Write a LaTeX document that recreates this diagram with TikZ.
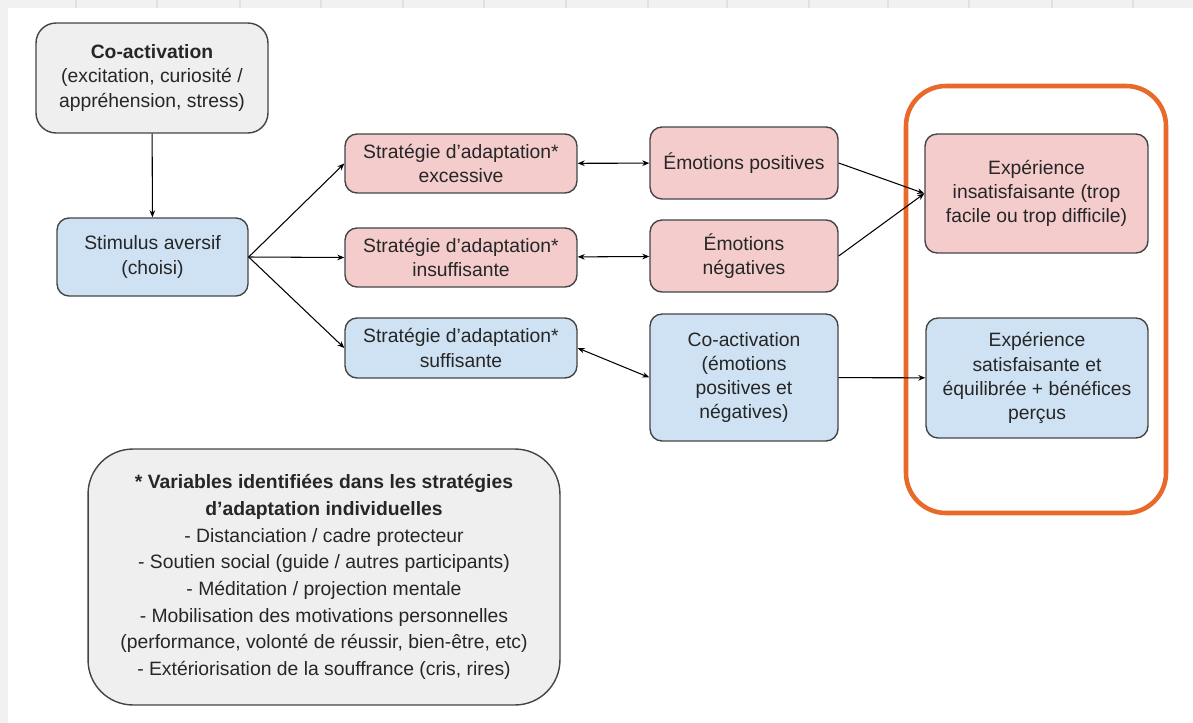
\documentclass[tikz,border=0pt]{standalone}
\usepackage{fontspec}
\setmainfont{Liberation Sans}
\usepackage{xcolor}
\usepackage{tikz}
\usetikzlibrary{shapes,arrows,positioning,calc,arrows.meta}

\definecolor{boxpink}{HTML}{F4CCCC}
\definecolor{boxblue}{HTML}{CFE2F3}
\definecolor{boxgray}{HTML}{EFEFEF}
\definecolor{frameorange}{HTML}{E8692A}
\definecolor{edgegray}{HTML}{444444}
\definecolor{stripgray}{HTML}{F1F1F1}

\begin{document}
\begin{tikzpicture}[x=0.02cm, y=-0.02cm,
    flow block/.style={draw=edgegray, line width=0.8pt, rounded corners=0.24cm, align=center, inner sep=2pt,
        font=\fontsize{11}{13.7}\selectfont, text=black!85},
    red block/.style={flow block, fill=boxpink},
    blue block/.style={flow block, fill=boxblue},
    gray block/.style={flow block, fill=boxgray},
    >={Stealth[length=4pt,width=3.2pt]}, line width=0.6pt]
    \useasboundingbox (0,0) rectangle (1193,723);
    % screenshot edge strips
    \fill[stripgray] (0,0) rectangle (1193,8);
    \fill[stripgray] (0,0) rectangle (8,723);
    \foreach \gx in {76,157,240,321,403,484,566,648,727,809,888,969,1052,1133}
        \draw[black!12, line width=1pt] (\gx,0) -- (\gx,8);

    % left column
    \node[gray block, rounded corners=0.4cm, minimum width=4.64cm, minimum height=2.2cm] (coact) at (152,78)
        {\textbf{Co-activation}\\(excitation, curiosité /\\appréhension, stress)};
    \node[blue block, minimum width=3.82cm, minimum height=1.56cm] (stim) at (152.5,257) {Stimulus aversif\\(choisi)};

    % strategies
    \node[red block, minimum width=4.64cm, minimum height=1.18cm] (strexc) at (461,163.5) {Stratégie d’adaptation*\\excessive};
    \node[red block, minimum width=4.64cm, minimum height=1.18cm] (strins) at (461,257.5) {Stratégie d’adaptation*\\insuffisante};
    \node[blue block, minimum width=4.64cm, minimum height=1.2cm] (strsuf) at (461,348) {Stratégie d’adaptation*\\suffisante};

    % emotions
    \node[red block, minimum width=3.76cm, minimum height=1.44cm] (emopos) at (744,163) {Émotions positives};
    \node[red block, minimum width=3.76cm, minimum height=1.44cm] (emoneg) at (744,256) {Émotions\\négatives};
    \node[blue block, minimum width=3.76cm, minimum height=2.54cm] (emoco) at (744,377.5) {Co-activation\\(émotions\\positives et\\négatives)};

    % outcomes
    \node[red block, minimum width=4.46cm, minimum height=2.38cm] (expins) at (1036.5,193.5) {Expérience\\insatisfaisante (trop\\facile ou trop difficile)};
    \node[blue block, minimum width=4.44cm, minimum height=2.4cm] (expsat) at (1037,378) {Expérience\\satisfaisante et\\équilibrée + bénéfices\\perçus};
    \draw[frameorange, line width=2.6pt, rounded corners=0.8cm] (906,86) rectangle (1166,513);

    % legend
    \node[gray block, rounded corners=0.9cm, minimum width=9.44cm, minimum height=5.12cm,
        font=\fontsize{11}{15.2}\selectfont] (legend) at (324,577)
        {\textbf{* Variables identifiées dans les stratégies}\\\textbf{d’adaptation individuelles}\\
         - Distanciation / cadre protecteur\\- Soutien social (guide / autres participants)\\
         - Méditation / projection mentale\\- Mobilisation des motivations personnelles\\
         (performance, volonté de réussir, bien-être, etc)\\- Extériorisation de la souffrance (cris, rires)};

    \draw[->] (coact) -- (stim);
    \draw[->] (stim.east) -- (strexc.west);
    \draw[->] (stim.east) -- (strins.west);
    \draw[->] (stim.east) -- (strsuf.west);
    \draw[<->] (strexc) -- (emopos);
    \draw[<->] (strins) -- (emoneg);
    \draw[<->] (strsuf.east) -- (emoco.west);
    \draw[->] (emopos.east) -- (expins.west);
    \draw[->] (emoneg.east) -- (expins.west);
    \draw[->] (emoco) -- (expsat);
\end{tikzpicture}
\end{document}
